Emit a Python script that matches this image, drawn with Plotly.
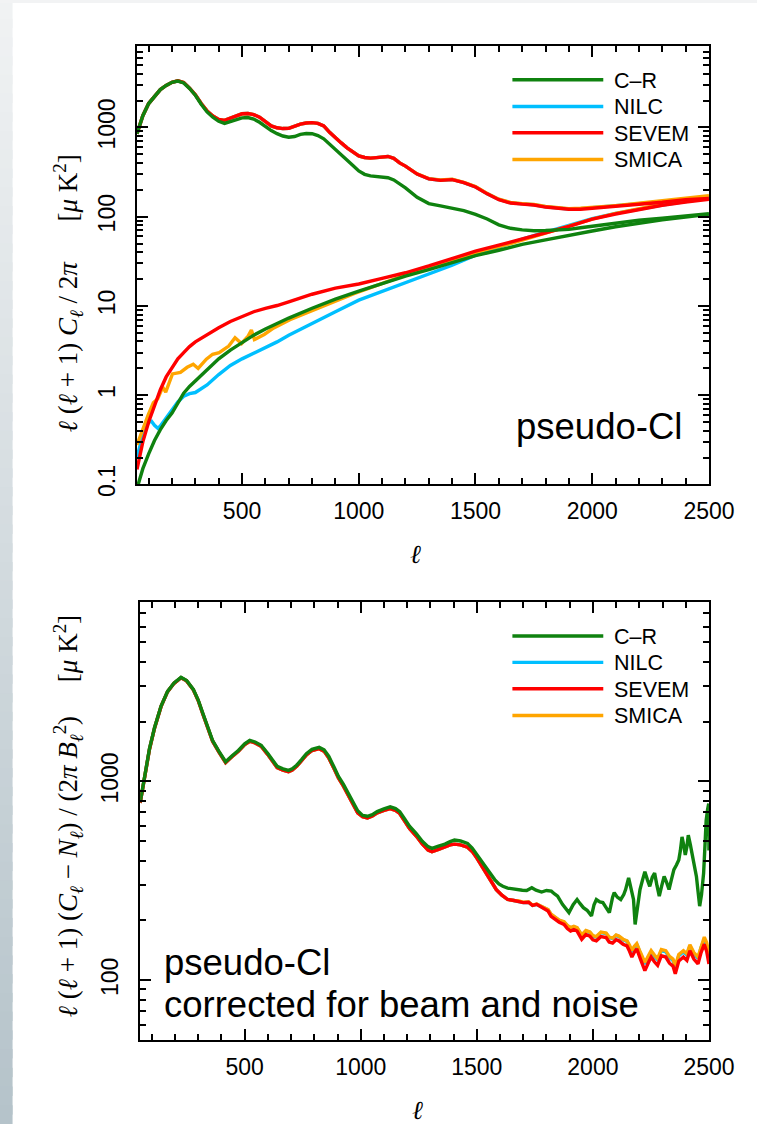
import plotly.graph_objects as go

# ---------------- data ----------------
series_names = ["C\u2013R", "NILC", "SEVEM", "SMICA"]
series_colors = {"C\u2013R": "#0f820f", "NILC": "#00bfff", "SEVEM": "#ff0000", "SMICA": "#ffa500"}

x_tick_vals = [500, 1000, 1500, 2000, 2500]
x_tick_text = ["500", "1000", "1500", "2000", "2500"]
top_y_tick_vals = [0.1, 1, 10, 100, 1000]
top_y_tick_text = ["0.1", "1", "10", "100", "1000"]
bot_y_tick_vals = [100, 1000]
bot_y_tick_text = ["100", "1000"]

# top panel: pseudo-Cl (signal + noise)
ell_sig = [50, 75, 100, 125, 150, 175, 200, 225, 250, 275, 300, 325, 350, 375, 400, 425, 450, 475, 500, 525,
           550, 575, 600, 625, 650, 675, 700, 725, 750, 775, 800, 825, 850, 875, 900, 925, 950, 975, 1000, 1025,
           1050, 1075, 1100, 1125, 1150, 1175, 1200, 1250, 1300, 1350, 1400, 1450, 1500, 1550, 1600, 1650, 1700,
           1750, 1800, 1850, 1900, 1950, 2000, 2100, 2200, 2300, 2400, 2500]
sevem_sig = [850, 1350, 1850, 2250, 2650, 2950, 3200, 3320, 3180, 2750,
             2320, 1850, 1530, 1340, 1230, 1200, 1270, 1360, 1420, 1430,
             1390, 1300, 1160, 1040, 990, 970, 975, 1040, 1090, 1120,
             1130, 1110, 1040, 880, 760, 670, 590, 530, 480, 460,
             452, 458, 468, 472, 450, 400, 368,
             300, 265, 255, 260, 240, 215, 180, 155, 142, 138, 135, 128, 124, 121, 121, 124,
             130, 137, 145, 155, 160]
nilc_sig = [850, 1350, 1850, 2250, 2650, 2950, 3200, 3320, 3180, 2750,
            2320, 1850, 1530, 1340, 1230, 1200, 1270, 1360, 1420, 1430,
            1390, 1300, 1160, 1040, 990, 970, 975, 1040, 1090, 1120,
            1130, 1110, 1040, 880, 760, 670, 590, 530, 480, 460,
            452, 458, 468, 472, 450, 400, 368,
            300, 266, 256, 261, 241, 216, 181, 156, 143, 139, 136, 129, 125, 122, 123, 126,
            131, 139, 147, 157, 165]
smica_sig = [850, 1350, 1850, 2250, 2650, 2950, 3200, 3320, 3180, 2750,
             2320, 1850, 1530, 1340, 1230, 1200, 1270, 1360, 1420, 1430,
             1390, 1300, 1160, 1040, 990, 970, 975, 1040, 1090, 1120,
             1130, 1110, 1040, 880, 760, 670, 590, 530, 480, 460,
             452, 458, 468, 472, 450, 400, 368,
             301, 267, 257, 262, 242, 217, 182, 157, 144, 140, 137, 130, 126, 123, 124, 126,
             133, 141, 150, 160, 172]
cr_sig = [850, 1350, 1850, 2250, 2650, 2950, 3200, 3300, 3150, 2730,
          2290, 1820, 1490, 1300, 1170, 1110, 1160, 1230, 1280, 1290,
          1240, 1140, 1010, 920, 850, 800, 775, 790, 835, 855,
          850, 810, 745, 650, 565, 500, 440, 375, 325, 298,
          286, 283, 280, 273, 258, 232, 210,
          165, 140, 132, 125, 117, 106, 94, 81, 74, 71, 69.5, 70, 70.5, 72, 75, 78,
          85, 91, 96, 102, 108]

ell_noise = [50, 75, 100, 125, 150, 175, 200, 225, 250, 275, 300, 350, 400, 450, 500, 550, 600, 650, 700,
             800, 900, 1000, 1100, 1200, 1300, 1400, 1500, 1600, 1700, 1800, 1900, 2000, 2100, 2200, 2300,
             2400, 2500]
sevem_noise = [0.147, 0.30, 0.50, 0.78, 1.15, 1.60, 2.05, 2.55, 3.0, 3.5, 3.95, 4.8, 5.7, 6.7, 7.6, 8.6, 9.4,
               10.1, 11.1, 13.5, 15.8, 17.6, 20.3, 23.5, 28, 34, 41, 48, 56, 66, 78, 94, 107, 121, 134, 146, 156]
cr_noise = [0.09, 0.15, 0.22, 0.31, 0.41, 0.52, 0.63, 0.82, 1.05, 1.25, 1.45, 1.95, 2.55, 3.2, 3.9, 4.7, 5.5,
            6.4, 7.3, 9.4, 11.9, 14.6, 17.8, 21.5, 25.5, 30.5, 36.5, 42, 49, 55, 62, 69, 77, 85, 92, 99, 106]
ell_nilc_noise = [50, 75, 100, 112, 125, 139, 150, 175, 200, 225, 250, 275, 300, 350, 400, 450, 500, 550, 600,
                  650, 700, 750, 800, 900, 1000, 1100, 1200, 1300, 1400, 1500, 1600, 1700, 1800, 1900, 2000,
                  2100, 2200, 2300, 2400, 2500]
nilc_noise = [0.20, 0.36, 0.50, 0.51, 0.46, 0.425, 0.45, 0.55, 0.68, 0.84, 0.97, 1.04, 1.07, 1.30, 1.70, 2.15,
              2.55, 2.95, 3.4, 3.95, 4.7, 5.5, 6.4, 8.6, 11.6, 14.5, 18.5, 23, 28.5, 37, 46, 56, 67, 80, 95,
              109, 122, 135, 148, 160]
ell_smica_noise = [50, 75, 98, 120, 139, 160, 173, 202, 236, 265, 291, 312, 347, 374, 402, 443, 470, 498, 526,
                   540, 553, 595, 636, 705, 843, 982, 1119, 1257, 1396, 1534, 1650, 1800, 1900, 2000, 2100,
                   2200, 2300, 2400, 2500]
smica_noise = [0.277, 0.42, 0.60, 0.82, 0.91, 1.23, 1.08, 1.73, 1.80, 2.05, 2.22, 1.99, 2.53, 2.87, 2.99, 3.55,
               4.39, 3.79, 4.58, 5.35, 4.2, 4.78, 5.66, 7.0, 9.84, 13.8, 18.6, 25, 32.4, 41.8, 50, 66, 79, 94,
               109, 124, 138, 152, 168]

# bottom panel: corrected for beam and noise
ell_bot = [50, 70, 90, 112, 140, 168, 196, 226, 250, 279,
           300, 321, 340, 362, 390, 418, 445, 474, 500, 522,
           545, 571, 599, 620, 640, 665, 689, 705, 724, 745,
           766, 790, 821, 842, 862, 885, 904, 925, 946, 967,
           987, 1008, 1029, 1050, 1071, 1100, 1127, 1150, 1168, 1190,
           1210, 1240, 1265, 1290, 1307, 1335, 1363, 1385, 1404, 1430,
           1460, 1480, 1501, 1520, 1543, 1562, 1584, 1608, 1633, 1660,
           1682, 1700, 1723, 1740, 1758, 1780, 1807, 1820, 1834, 1855,
           1876, 1890, 1904, 1918, 1932, 1952, 1970, 1987, 2000, 2015,
           2035, 2057, 2070, 2085, 2100, 2112, 2130, 2147, 2158, 2168,
           2178, 2189, 2205, 2224, 2238, 2251, 2265, 2279, 2295, 2314,
           2330, 2345, 2355, 2370, 2390, 2405, 2418, 2435, 2453, 2466,
           2480, 2490, 2500]
sevem_bot = [780, 1040, 1450, 1856, 2382, 2825, 3112, 3320, 3200, 2885,
             2550, 2163, 1880, 1592, 1400, 1244, 1330, 1422, 1530, 1592,
             1560, 1503, 1368, 1260, 1174, 1140, 1120, 1140, 1190, 1270,
             1360, 1430, 1460, 1420, 1316, 1160, 1040, 950, 860, 770,
             695, 665, 655, 670, 695, 715, 730, 715, 690, 630,
             580, 530, 485, 452, 443, 455, 470, 480, 484, 480,
             467, 445, 411, 378, 340, 310, 286, 268, 255, 252,
             250, 246, 247, 238, 241, 232, 223, 210, 204, 196,
             191, 182, 177, 180, 177, 161, 170, 167, 160, 158,
             166, 164, 156, 154, 160, 158, 152, 149, 140, 131,
             138, 144, 128, 112, 122, 131, 124, 119, 133, 131,
             122, 118, 108, 125, 131, 126, 141, 128, 121, 138,
             152, 140, 121]
nilc_bot = [780, 1040, 1450, 1856, 2382, 2825, 3112, 3320, 3200, 2885,
            2550, 2163, 1880, 1592, 1400, 1244, 1330, 1422, 1530, 1592,
            1560, 1503, 1368, 1260, 1174, 1140, 1120, 1140, 1190, 1270,
            1360, 1430, 1460, 1420, 1316, 1160, 1040, 950, 860, 770,
            695, 665, 655, 670, 695, 715, 730, 715, 690, 630,
            580, 530, 485, 452, 443, 455, 470, 480, 484, 480,
            467, 445, 411, 378, 340, 310, 286, 268, 255, 252,
            250, 246, 247, 238, 241, 234, 226, 214, 208, 200,
            196, 188, 183, 186, 183, 168, 177, 174, 167, 165,
            174, 172, 164, 162, 168, 166, 160, 157, 148, 139,
            146, 152, 136, 121, 130, 139, 132, 127, 141, 139,
            130, 126, 116, 133, 139, 134, 149, 136, 129, 146,
            160, 150, 130]
smica_bot = [780, 1040, 1450, 1856, 2382, 2825, 3112, 3320, 3200, 2885,
             2550, 2163, 1880, 1592, 1400, 1244, 1330, 1422, 1530, 1592,
             1560, 1503, 1368, 1260, 1174, 1140, 1120, 1140, 1190, 1270,
             1360, 1430, 1460, 1420, 1316, 1160, 1040, 950, 860, 770,
             695, 665, 655, 670, 695, 715, 730, 715, 690, 630,
             580, 530, 485, 452, 443, 455, 470, 480, 484, 480,
             467, 445, 411, 378, 340, 310, 286, 268, 255, 252,
             251, 247, 248, 239, 242, 235, 227, 215, 209, 201,
             197, 189, 184, 187, 184, 169, 178, 175, 168, 166,
             175, 173, 165, 163, 169, 167, 161, 158, 150, 141,
             148, 153, 138, 123, 132, 141, 134, 129, 143, 141,
             132, 128, 118, 135, 141, 136, 151, 138, 131, 148,
             165, 155, 136]
ell_bot_cr = [50, 70, 90, 112, 140, 168, 196, 226, 250, 279,
              300, 321, 340, 362, 390, 418, 445, 474, 500, 522,
              545, 571, 599, 620, 640, 665, 689, 705, 724, 745,
              766, 790, 821, 842, 862, 885, 904, 925, 946, 967,
              987,
              1008, 1029, 1050, 1071, 1100, 1127, 1150, 1168, 1190, 1210,
              1240, 1265, 1290, 1307, 1335, 1363, 1385, 1404, 1430, 1460,
              1480, 1501, 1520, 1543, 1562, 1577, 1595, 1612, 1633, 1654,
              1675, 1696, 1715, 1737, 1755, 1779, 1800, 1821, 1835, 1848,
              1869, 1883, 1897, 1915, 1932, 1945, 1959, 1975, 1994, 2005,
              2015, 2030, 2043, 2057, 2071, 2085, 2092, 2105, 2120, 2133,
              2141, 2154, 2165, 2175, 2182, 2192, 2203, 2214, 2224, 2235,
              2245, 2256, 2266, 2276, 2286, 2297, 2307, 2318, 2328, 2338,
              2349, 2360, 2370, 2377, 2384, 2391, 2398, 2405, 2411, 2420,
              2432, 2440, 2446, 2453, 2460, 2468, 2477, 2483, 2488, 2494,
              2499, 2500]
cr_bot = [785, 1045, 1460, 1865, 2390, 2835, 3125, 3335, 3215, 2900,
          2565, 2180, 1895, 1605, 1412, 1255, 1342, 1435, 1545, 1608,
          1578, 1520, 1385, 1277, 1190, 1156, 1136, 1156, 1206, 1287,
          1378, 1450, 1482, 1442, 1338, 1180, 1058, 968, 878, 788,
          712,
          675, 668, 680, 705, 728, 745, 730, 705, 645, 595,
          545, 500, 470, 461, 473, 484, 498, 507, 502, 488,
          462, 427, 395, 360, 338, 321, 305, 297, 291, 288,
          286, 284, 283, 292, 284, 278, 283, 281, 272, 265,
          241, 230, 219, 240, 255, 243, 232, 225, 211, 240,
          255, 248, 246, 232, 219, 262, 276, 262, 255, 270,
          286, 327, 290, 255, 191, 230, 286, 320, 352, 320,
          297, 330, 346, 300, 265, 300, 333, 310, 286, 320,
          360, 380, 403, 450, 526, 480, 427, 470, 537, 480,
          403, 360, 333, 280, 236, 270, 346, 480, 637, 720,
          773, 450]

# ---------------- figure ----------------
W, H = 783, 1137
SANS = "Liberation Sans, Arial, Helvetica, sans-serif"
SERIF = "Liberation Serif, DejaVu Serif, Times New Roman, serif"


def fx(px):
    return px / W


def fy(py):
    return 1 - py / H


fig = go.Figure()
LW = 3.4

top_sig = {"C\u2013R": (ell_sig, cr_sig), "NILC": (ell_sig, nilc_sig),
           "SEVEM": (ell_sig, sevem_sig), "SMICA": (ell_sig, smica_sig)}
top_noise = {"C\u2013R": (ell_noise, cr_noise), "NILC": (ell_nilc_noise, nilc_noise),
             "SEVEM": (ell_noise, sevem_noise), "SMICA": (ell_smica_noise, smica_noise)}
bot = {"C\u2013R": (ell_bot_cr, cr_bot), "NILC": (ell_bot, nilc_bot),
       "SEVEM": (ell_bot, sevem_bot), "SMICA": (ell_bot, smica_bot)}

draw_order = ["NILC", "SMICA", "SEVEM", "C\u2013R"]
for name in draw_order:
    xs, ys = top_noise[name]
    fig.add_trace(go.Scatter(x=xs, y=ys, mode="lines", name=name + " noise",
                             line=dict(color=series_colors[name], width=LW),
                             showlegend=False, xaxis="x", yaxis="y"))
for name in draw_order:
    xs, ys = top_sig[name]
    fig.add_trace(go.Scatter(x=xs, y=ys, mode="lines", name=name, showlegend=False,
                             line=dict(color=series_colors[name], width=LW), xaxis="x", yaxis="y"))
for name in draw_order:
    xs, ys = bot[name]
    fig.add_trace(go.Scatter(x=xs, y=ys, mode="lines", name=name, showlegend=False,
                             line=dict(color=series_colors[name], width=LW), xaxis="x2", yaxis="y2"))

tickfont = dict(family=SANS, size=23, color="black")


def xcfg(domain, anchor):
    return dict(domain=domain, anchor=anchor, range=[50, 2500], tickmode="array",
                tickvals=x_tick_vals, ticktext=x_tick_text, ticks="inside", ticklen=11, tickwidth=1.5,
                tickcolor="black", showline=True, linewidth=2, linecolor="black", mirror="ticks",
                showgrid=False, zeroline=False, tickfont=tickfont, ticklabelstandoff=5,
                minor=dict(ticks="inside", ticklen=6, tickwidth=1.5, tickcolor="black", dtick=100, tick0=0,
                           showgrid=False))


def ycfg(domain, anchor, rng, vals, text):
    return dict(domain=domain, anchor=anchor, type="log", range=rng, tickmode="array",
                tickvals=vals, ticktext=text, ticks="inside", ticklen=11, tickwidth=1.5, tickcolor="black",
                showline=True, linewidth=2, linecolor="black", mirror="ticks", showgrid=False,
                zeroline=False, tickfont=tickfont, tickangle=-90, ticklabelstandoff=11,
                minor=dict(ticks="inside", ticklen=6, tickwidth=1.5, tickcolor="black", dtick="D1",
                           showgrid=False))


fig.update_layout(
    width=W, height=H, margin=dict(l=0, r=0, t=0, b=0),
    paper_bgcolor="white", plot_bgcolor="white", showlegend=False,
    xaxis=xcfg([fx(141.7), fx(733.3)], "y"),
    yaxis=ycfg([fy(490), fy(46.7)], "x", [-1, 3.91], top_y_tick_vals, top_y_tick_text),
    xaxis2=xcfg([fx(145), fx(733.3)], "y2"),
    yaxis2=ycfg([fy(1052.3), fy(609.3)], "x2", [1.699, 3.90], bot_y_tick_vals, bot_y_tick_text),
)

# slide-like gradient background strip on the left and top
steps = 60
c0 = (240, 242, 243)
c1 = (181, 195, 202)
shapes = []
for i in range(steps):
    t = i / (steps - 1)
    col = "rgb(%d,%d,%d)" % tuple(round(a + (b - a) * t) for a, b in zip(c0, c1))
    shapes.append(dict(type="rect", xref="paper", yref="paper", x0=0, x1=fx(13),
                       y0=max(0, 1 - (i + 1.5) / steps), y1=1 - i / steps, fillcolor=col, line=dict(width=0),
                       layer="below"))
shapes.append(dict(type="rect", xref="paper", yref="paper", x0=0, x1=1, y0=fy(3), y1=1,
                   fillcolor="rgb(242,243,244)", line=dict(width=0), layer="below"))

ann = []
# legends (one per panel), drawn as line samples + labels
legend_rows_top = [80.7, 107.7, 134.3, 161.3]
legend_rows_bot = [643.3, 670.0, 696.7, 723.7]
for rows in (legend_rows_top, legend_rows_bot):
    for name, yy in zip(series_names, rows):
        shapes.append(dict(type="line", xref="paper", yref="paper", x0=fx(530), x1=fx(624),
                           y0=fy(yy), y1=fy(yy), line=dict(color=series_colors[name], width=LW)))
        ann.append(dict(text=name, x=fx(633), y=fy(yy + 1), xref="paper", yref="paper", xanchor="left",
                        yanchor="middle", showarrow=False, font=dict(family=SANS, size=21.5, color="black")))
fig.update_layout(shapes=shapes)

ann.append(dict(text="pseudo-Cl", x=fx(532), y=fy(431), xref="paper", yref="paper", xanchor="left",
                yanchor="middle", showarrow=False, font=dict(family=SANS, size=36.5, color="black")))
ann.append(dict(text="pseudo-Cl", x=fx(168), y=fy(973.5), xref="paper", yref="paper", xanchor="left",
                yanchor="middle", showarrow=False, font=dict(family=SANS, size=36.5, color="black")))
ann.append(dict(text="corrected for beam and noise", x=fx(168), y=fy(1016), xref="paper", yref="paper",
                xanchor="left", yanchor="middle", showarrow=False,
                font=dict(family=SANS, size=36.5, color="black")))
ann.append(dict(text="<i>\u2113</i>", x=fx(430), y=fy(561), xref="paper", yref="paper", xanchor="center",
                yanchor="middle", showarrow=False, font=dict(family=SERIF, size=26, color="black")))
ann.append(dict(text="<i>\u2113</i>", x=fx(432), y=fy(1123), xref="paper", yref="paper", xanchor="center",
                yanchor="middle", showarrow=False, font=dict(family=SERIF, size=26, color="black")))
ann.append(dict(text="<i>\u2113</i> (<i>\u2113</i> + 1) <i>C</i><sub><i>\u2113</i></sub> / 2<i>\u03c0</i>"
                     "      [<i>\u03bc</i> K<sup>2</sup>]",
                x=fx(70), y=fy(297), xref="paper", yref="paper", xanchor="center", yanchor="middle",
                textangle=-90, showarrow=False, font=dict(family=SERIF, size=27, color="black")))
ann.append(dict(text="<i>\u2113</i> (<i>\u2113</i> + 1) (<i>C</i><sub><i>\u2113</i></sub> \u2212 "
                     "<i>N</i><sub><i>\u2113</i></sub>) / (2<i>\u03c0</i> <i>B</i><sub><i>\u2113</i></sub>"
                     "<sup>2</sup>)     [<i>\u03bc</i> K<sup>2</sup>]",
                x=fx(70), y=fy(826), xref="paper", yref="paper", xanchor="center", yanchor="middle",
                textangle=-90, showarrow=False, font=dict(family=SERIF, size=27, color="black")))
fig.update_layout(annotations=ann)

fig.write_html("out.html")
